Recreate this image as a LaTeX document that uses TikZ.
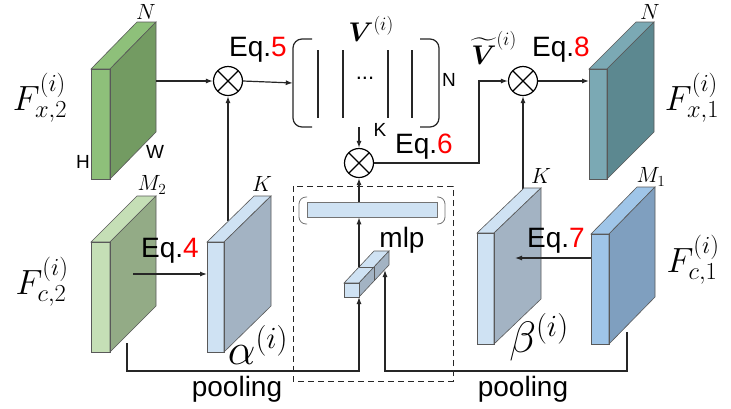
\RequirePackage{fix-cm}
\documentclass[tikz,border=0pt]{standalone}
\usepackage{amsmath}
\usepackage[no-math]{fontspec}
\setmainfont{Liberation Sans}
\usetikzlibrary{arrows.meta,calc}
\definecolor{gF}{HTML}{8EC07A}\definecolor{gS}{HTML}{739B62}
\definecolor{gcF}{HTML}{C5DFB6}\definecolor{gcS}{HTML}{93AB86}
\definecolor{bF}{HTML}{CFE2F3}\definecolor{bS}{HTML}{A3B3C3}
\definecolor{tF}{HTML}{7BA9B4}\definecolor{tS}{HTML}{5C8890}
\definecolor{bbF}{HTML}{9FC5E8}\definecolor{bbS}{HTML}{7F9FBF}
\newcommand\fbig{\fontsize{35}{37}\selectfont}
\newcommand\fhuge{\fontsize{44}{46}\selectfont}
\newcommand\fmid{\fontsize{27}{29}\selectfont}
\newcommand\feq{\fontsize{28}{30}\selectfont}
\newcommand\fsm{\fontsize{19}{21}\selectfont}
\newcommand\fsmm{\fontsize{22}{24}\selectfont}
\newcommand\eqlab[1]{Eq.\textcolor{red}{#1}}
% name, xl, xr, yt, yb, dx, dy, front, side
\newcommand\slab[9]{%
  \fill[#8] (#2,#4) rectangle (#3,#5);
  \filldraw[fill=#8, slabedge] (#2,#4) -- (#3,#4) -- ({#3+#6},{#4+#7}) -- ({#2+#6},{#4+#7}) -- cycle;
  \filldraw[fill=#9, slabedge] (#3,#4) -- ({#3+#6},{#4+#7}) -- ({#3+#6},{#5+#7}) -- (#3,#5) -- cycle;
  \draw[slabedge] (#2,#4) rectangle (#3,#5);
  \coordinate (#1-tl) at (#2,#4);
  \coordinate (#1-br) at (#3,#5);
  \coordinate (#1-bk) at ({#3+#6},{#4+#7});
}
\tikzset{
  conn/.style={line width=1.2pt, draw=black!85},
  arr/.style={conn, -{Latex[length=7pt,width=5pt]}},
  slabedge/.style={draw=black!65, line width=0.6pt},
  otimes/.style={circle, draw, line width=1.2pt, minimum size=29pt, inner sep=0pt,
    path picture={\draw[line width=1.2pt] (path picture bounding box.north west) -- (path picture bounding box.south east)
      (path picture bounding box.north east) -- (path picture bounding box.south west);}},
  eqt/.style={font=\feq, inner sep=0pt},
  lab/.style={inner sep=0pt},
}
\begin{document}
\begin{tikzpicture}[x=1pt,y=-1pt]
\useasboundingbox (0,0) rectangle (731,408);
\fill[white] (0,0) rectangle (731,408);

% multiplication nodes
\node[otimes] (m1) at (228,81) {};
\node[otimes] (m2) at (359,163) {};
\node[otimes] (m3) at (523,81) {};

% V bracket
\node[inner sep=0pt, minimum width=146pt, minimum height=88pt] (vb) at (366,83) {};
\draw[conn, rounded corners=9pt] (312,39) -- (293,39) -- (293,127) -- (312,127);
\draw[conn, rounded corners=9pt] (420,39) -- (439,39) -- (439,127) -- (420,127);
\foreach \x in {318,343,388,412} \draw[conn] (\x,50) -- (\x,118);
\node[font=\fontsize{22}{24}\selectfont, lab] (dots) at (365,78) {...};

% connectors behind slabs
\coordinate (aup) at (228,221);
\coordinate (bup) at (523,190);
\draw[arr] (aup) -- (m1.south);
\draw[arr] (bup) -- (m3.south);

% slabs
\slab{fx2}{91}{110}{69}{179}{46}{-47}{gF}{gS}
\slab{fx1}{589}{607}{69}{179}{47}{-47}{tF}{tS}
\slab{fc2}{91}{110}{242}{352}{46}{-46}{gcF}{gcS}
\slab{al}{207}{224}{242}{352}{47}{-46}{bF}{bS}
\slab{be}{477}{494}{233}{344}{47}{-45}{bF}{bS}
\slab{fc1}{591}{609}{234}{344}{46}{-47}{bbF}{bbS}

% top row connectors
\coordinate (fx2o) at (156,81);
\coordinate (fx1i) at (589,81);
\draw[arr] (fx2o) -- (m1.west);
\draw[arr] (m1.east) -- (vb.west);
\draw[arr] (m2 |- vb.south) -- (m2.north);
\coordinate (turn) at (479,81);
\draw[arr] (m2.east) -| (turn) -- (m3.west);
\draw[arr] (m3.east) -- (fx1i);

% Eq.4 and Eq.7 arrows
\coordinate (e4s) at (133,274);
\coordinate (e4e) at (207,274);
\draw[arr] (e4s) -- (e4e);
\coordinate (e7s) at (591,258);
\coordinate (e7e) at (515,258);
\draw[arr] (e7s) -- (e7e);

% mlp bar and parens
\node[draw=black!55, fill=bF, line width=0.6pt, minimum width=130pt, minimum height=15pt, inner sep=0pt] (bar) at (372,209.5) {};
\draw[black!55, line width=0.8pt, rounded corners=7pt] (307,197) -- (299,197) -- (299,224) -- (307,224);
\draw[black!55, line width=0.8pt, rounded corners=7pt] (437,197) -- (445,197) -- (445,224) -- (437,224);
\draw[arr] (m2 |- bar.north) -- (m2.south);

% small pooled cube
\filldraw[fill=bF, slabedge] (344,283) -- (359,283) -- (389,251) -- (374,251) -- cycle;
\filldraw[fill=bS, slabedge] (359,283) -- (389,251) -- (389,265) -- (359,297) -- cycle;
\filldraw[fill=bF, slabedge] (344,283) rectangle (359,297);
\draw[slabedge] (359,267) -- (374,267) -- (374,281);
\coordinate (cubetop) at (359,267);
\coordinate (cubebot) at (359,297);
\coordinate (cubeside) at (385,270);
\draw[arr] (cubetop) -- (m2 |- bar.south);

% pooling lines
\coordinate (pl0) at (127,343);
\coordinate (pl1) at (127,371);
\coordinate (pr0) at (627,332);
\coordinate (pr1) at (627,371);
\draw[arr] (pl0) -- (pl1) -| (cubebot);
\draw[arr] (pr0) -- (pr1) -| (cubeside);

% dashed box
\draw[dash pattern=on 6pt off 4pt, line width=1pt, black!85] (293,186) rectangle (453,381);

% labels
\node[font=\fbig, lab] (lfx2) at (40,98) {$F_{x,2}^{(i)}$};
\node[font=\fbig, lab] (lfx1) at (692,98) {$F_{x,1}^{(i)}$};
\node[font=\fbig, lab] (lfc2) at (42,282) {$F_{c,2}^{(i)}$};
\node[font=\fbig, lab] (lfc1) at (693,260) {$F_{c,1}^{(i)}$};
\node[font=\fhuge, lab] (lal) at (258,345) {$\alpha^{(i)}$};
\node[font=\fhuge, lab] (lbe) at (539,337) {$\beta^{(i)}$};
\node[font=\fmid, lab] (lV) at (371,29) {$\boldsymbol{V}^{(i)}$};
\node[font=\fmid, lab] (lVt) at (494,48) {$\widetilde{\boldsymbol{V}}^{(i)}$};

\node[eqt] (eq5) at (258,50) {\eqlab{5}};
\node[eqt] (eq6) at (424,147) {\eqlab{6}};
\node[eqt] (eq8) at (561,50) {\eqlab{8}};
\node[eqt] (eq4) at (170,251) {\eqlab{4}};
\node[eqt] (eq7) at (556,241) {\eqlab{7}};
\node[eqt] (pool1) at (237,389) {pooling};
\node[eqt] (pool2) at (523,389) {pooling};
\node[eqt] (mlp) at (402,240) {mlp};

\node[font=\fsm, lab] (H) at (83,162) {H};
\node[font=\fsm, lab] (W) at (155,152) {W};
\node[font=\fsm, lab] (Nv) at (449,80) {N};
\node[font=\fsm, lab] (Kv) at (380,130) {K};

\node[font=\fsmm, lab] (N1) at (146,12) {$N$};
\node[font=\fsmm, lab] (N2) at (650,12) {$N$};
\node[font=\fsmm, lab] (M2) at (152,185) {$M_2$};
\node[font=\fsmm, lab] (K1) at (262,184) {$K$};
\node[font=\fsmm, lab] (K2) at (541,176) {$K$};
\node[font=\fsmm, lab] (M1) at (651,177) {$M_1$};
\end{tikzpicture}
\end{document}
